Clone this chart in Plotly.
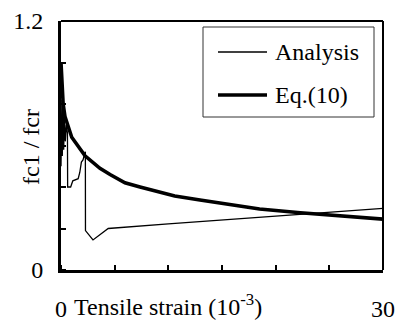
import plotly.graph_objects as go

# Analysis (thin line)
analysis_x = [0.0, 0.08, 0.12, 0.2, 0.25, 0.32, 0.4, 0.5, 0.6, 0.62, 0.9, 1.1, 1.6, 1.75, 1.9, 2.05, 2.27, 2.28, 2.98, 4.4, 10.0, 15.7, 22.9, 30.0]
analysis_y = [0.50, 0.82, 0.55, 0.78, 0.58, 0.74, 0.62, 0.70, 0.66, 0.40, 0.40, 0.43, 0.44, 0.47, 0.52, 0.53, 0.57, 0.19, 0.145, 0.20, 0.222, 0.243, 0.272, 0.297]

# Eq.(10) (thick line)
eq_x = [0.0, 0.1, 0.2, 0.37, 1.0, 2.24, 3.63, 4.57, 5.96, 7.36, 8.95, 10.6, 12.95, 15.3, 17.6, 18.5, 22.3, 26.9, 30.0]
eq_y = [1.0, 0.88, 0.80, 0.74, 0.64, 0.55, 0.49, 0.46, 0.42, 0.40, 0.377, 0.357, 0.337, 0.32, 0.30, 0.294, 0.276, 0.26, 0.245]

x_tickvals = [0, 30]
x_ticktext = ["0", "30"]
y_tickvals = [0, 1.2]
y_ticktext = ["0", "1.2"]

FONT = "Liberation Serif"
FS = 24

fig = go.Figure()
fig.add_trace(go.Scatter(x=analysis_x, y=analysis_y, mode="lines", name="Analysis",
                         line=dict(color="black", width=1.3), showlegend=False))
fig.add_trace(go.Scatter(x=eq_x, y=eq_y, mode="lines", name="Eq.(10)",
                         line=dict(color="black", width=3.6), showlegend=False))

L, R, T, B = 61, 15, 21, 52
W, H = 398, 322
pw, ph = W - L - R, H - T - B

def px(xp):
    return (xp - L) / pw

def py(yp):
    return (H - B - yp) / ph

fig.update_layout(
    width=W, height=H,
    margin=dict(l=L, r=R, t=T, b=B, pad=0, autoexpand=False),
    paper_bgcolor="white", plot_bgcolor="white",
    font=dict(family=FONT, size=FS, color="black"),
    xaxis=dict(range=[0, 30], tickvals=x_tickvals, ticktext=x_ticktext,
               ticks="", showline=True, linecolor="black", linewidth=3, mirror=False,
               showgrid=False, zeroline=False, ticklabelstandoff=15, automargin=False,
               tickfont=dict(family=FONT, size=FS),
               minor=dict(dtick=5, tick0=0, ticks="inside", ticklen=5, tickwidth=1.5,
                          tickcolor="black", showgrid=False)),
    yaxis=dict(range=[0, 1.2], tickvals=y_tickvals, ticktext=y_ticktext,
               ticks="", showline=True, linecolor="black", linewidth=3, mirror=False,
               showgrid=False, zeroline=False, ticklabelstandoff=10, automargin=False,
               tickfont=dict(family=FONT, size=FS),
               minor=dict(dtick=0.2, tick0=0, ticks="inside", ticklen=5, tickwidth=1.5,
                          tickcolor="black", showgrid=False)),
    showlegend=False,
)

shapes = [
    # top & right frame lines
    dict(type="line", xref="paper", yref="paper", x0=0, x1=1, y0=1, y1=1,
         line=dict(color="black", width=2)),
    dict(type="line", xref="paper", yref="paper", x0=1, x1=1, y0=0, y1=1,
         line=dict(color="black", width=2)),
    # legend box
    dict(type="rect", xref="paper", yref="paper", x0=px(203), x1=px(374), y0=py(117), y1=py(27),
         line=dict(color="#333333", width=1), fillcolor="white"),
    dict(type="line", xref="paper", yref="paper", x0=px(218), x1=px(267), y0=py(52), y1=py(52),
         line=dict(color="black", width=1.3)),
    dict(type="line", xref="paper", yref="paper", x0=px(218), x1=px(267), y0=py(95), y1=py(95),
         line=dict(color="black", width=3.6)),
]
fig.update_layout(shapes=shapes)

annotations = [
    dict(text="Analysis", xref="paper", yref="paper", x=px(273), y=py(52),
         xanchor="left", yanchor="middle", showarrow=False, font=dict(family=FONT, size=FS)),
    dict(text="Eq.(10)", xref="paper", yref="paper", x=px(273), y=py(95),
         xanchor="left", yanchor="middle", showarrow=False, font=dict(family=FONT, size=FS)),
    dict(text="Tensile strain (10<sup>-3</sup>)", xref="paper", yref="paper", x=px(72), y=py(305),
         xanchor="left", yanchor="middle", showarrow=False, font=dict(family=FONT, size=FS)),
    dict(text="fc1 / fcr", xref="paper", yref="paper", x=px(31), y=py(147),
         xanchor="center", yanchor="middle", textangle=-90, showarrow=False,
         font=dict(family=FONT, size=FS)),
]
fig.update_layout(annotations=annotations)

fig.write_html("out.html", config={"displayModeBar": False},
               post_script="document.body.style.margin='0';document.body.style.padding='0';")
